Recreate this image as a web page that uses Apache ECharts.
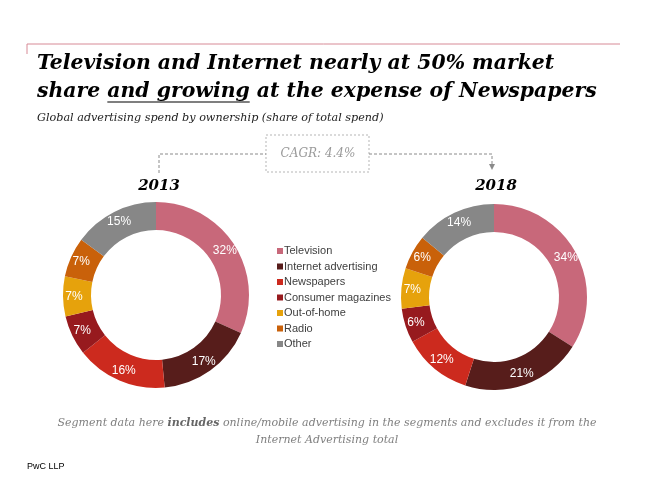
<!DOCTYPE html>
<html>
<head>
<meta charset="utf-8">
<script src="https://cdn.jsdelivr.net/npm/echarts@6/dist/echarts.min.js"></script>
<style>
  html, body { margin: 0; padding: 0; background: #fff; }
  #chart { width: 650px; height: 488px; }
</style>
</head>
<body>
<div id="chart"></div>
<script>
var categories = ['Television', 'Internet advertising', 'Newspapers', 'Consumer magazines', 'Out-of-home', 'Radio', 'Other']
var share2013 = [32, 17, 16, 7, 7, 7, 15]
var share2018 = [34, 21, 12, 6, 7, 6, 14]
var years = ['2013', '2018']
var colors = ['#C8687A', '#571D1B', '#CC2A1E', '#971A1E', '#E6A20C', '#C9610A', '#878787']

var serif = 'DejaVu Serif'
var sans = 'Liberation Sans, Arial, sans-serif'

// measure text so the underline sits under "and growing"
function textWidth(str, font) {
  var ctx = document.createElement('canvas').getContext('2d')
  ctx.font = font
  return ctx.measureText(str).width
}
var titleFont = 'italic bold 20.4px "' + serif + '"'
var ulStart = 37 + textWidth('share ', titleFont)
var ulEnd = ulStart + textWidth('and growing', titleFont)

function toData(values) {
  return categories.map(function (name, i) {
    return { name: name, value: values[i] }
  })
}

function donut(name, values, center) {
  return {
    name: name,
    type: 'pie',
    center: center,
    radius: [65, 93],
    startAngle: 90,
    clockwise: true,
    avoidLabelOverlap: false,
    label: {
      show: true,
      position: 'inside',
      formatter: '{c}%',
      color: '#fff',
      fontFamily: sans,
      fontSize: 12
    },
    labelLine: { show: false },
    emphasis: { disabled: true },
    itemStyle: { borderWidth: 0 },
    data: toData(values)
  }
}

var dash = { stroke: '#8a8a8a', lineWidth: 1, lineDash: [3, 2] }

var chart = echarts.init(document.getElementById('chart'))
chart.setOption({
  animation: false,
  color: colors,
  legend: {
    orient: 'vertical',
    left: 272,
    top: 240,
    icon: 'rect',
    itemWidth: 6,
    itemHeight: 6,
    itemGap: 3.5,
    selectedMode: false,
    textStyle: { fontFamily: sans, fontSize: 11, color: '#404040', lineHeight: 12, padding: [0, 0, 0, -4] },
    data: categories
  },
  graphic: [
    // pink rule across the top
    { type: 'polyline', silent: true, shape: { points: [[27, 54], [27, 44], [620, 44]] }, style: { stroke: '#D78A96', lineWidth: 1, fill: null } },
    {
      type: 'text', left: 37, top: 54,
      style: { text: 'Television and Internet nearly at 50% market', font: titleFont, fill: '#000' }
    },
    {
      type: 'text', left: 37, top: 82,
      style: { text: 'share and growing at the expense of Newspapers', font: titleFont, fill: '#000' }
    },
    { type: 'line', silent: true, shape: { x1: ulStart, y1: 102, x2: ulEnd, y2: 102 }, style: { stroke: '#000', lineWidth: 1.2 } },
    {
      type: 'text', left: 37, top: 113,
      style: { text: 'Global advertising spend by ownership (share of total spend)', font: 'italic 11.2px "' + serif + '"', fill: '#222' }
    },
    // CAGR connector
    { type: 'rect', silent: true, shape: { x: 266, y: 135, width: 103, height: 37 }, style: { fill: null, stroke: '#b5b5b5', lineWidth: 1, lineDash: [2, 2] } },
    { type: 'text', x: 318, y: 154, style: { text: 'CAGR: 4.4%', font: 'italic 12px "' + serif + '"', fill: '#9a9a9a', align: 'center', verticalAlign: 'middle' } },
    { type: 'polyline', silent: true, shape: { points: [[159, 173], [159, 154], [266, 154]] }, style: Object.assign({ fill: null }, dash) },
    { type: 'polyline', silent: true, shape: { points: [[369, 154], [492, 154], [492, 165]] }, style: Object.assign({ fill: null }, dash) },
    { type: 'polygon', silent: true, shape: { points: [[489, 164], [495, 164], [492, 170]] }, style: { fill: '#8a8a8a' } },
    { type: 'text', x: 159, y: 186, style: { text: years[0], font: 'italic bold 15px "' + serif + '"', fill: '#000', align: 'center', verticalAlign: 'middle' } },
    { type: 'text', x: 496, y: 186, style: { text: years[1], font: 'italic bold 15px "' + serif + '"', fill: '#000', align: 'center', verticalAlign: 'middle' } },
    // footnote
    {
      type: 'text', x: 327, y: 415,
      style: {
        text: '{n|Segment data here }{b|includes}{n| online/mobile advertising in the segments and excludes it from the}\n{n|Internet Advertising total}',
        align: 'center',
        rich: {
          n: { fontFamily: serif, fontStyle: 'italic', fontSize: 11, fill: '#7f7f7f', lineHeight: 17 },
          b: { fontFamily: serif, fontStyle: 'italic', fontWeight: 'bold', fontSize: 11, fill: '#666', lineHeight: 17 }
        }
      }
    },
    { type: 'text', left: 27, top: 462, style: { text: 'PwC LLP', font: '9px ' + sans, fill: '#000' } }
  ],
  series: [
    donut(years[0], share2013, [156, 295]),
    donut(years[1], share2018, [494, 297])
  ]
})
</script>
</body>
</html>
